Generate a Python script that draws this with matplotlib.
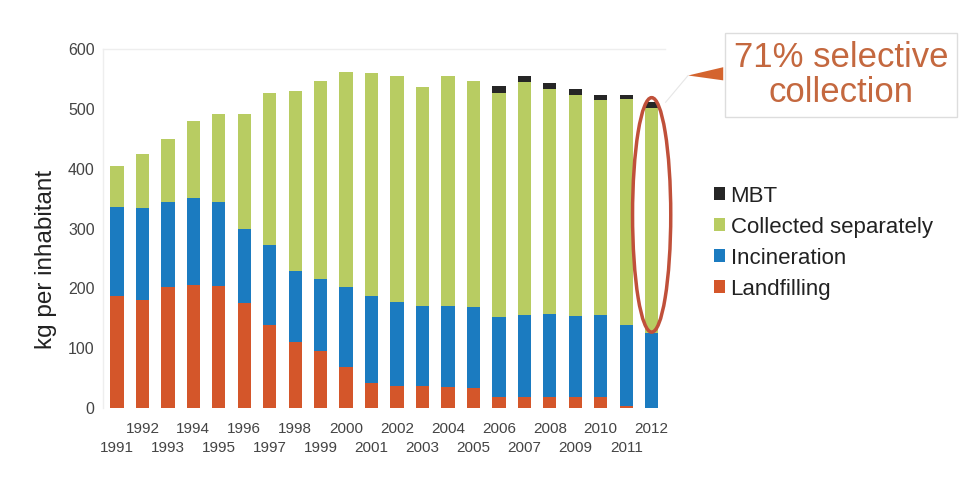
import matplotlib.pyplot as plt
import numpy as np
from matplotlib.patches import Ellipse, Polygon

plt.rcParams['font.family'] = ['Liberation Sans', 'DejaVu Sans']

years = list(range(1991, 2013))
# cumulative tops, turned into layer sizes below
landfilling = [188, 181, 203, 206, 204, 176, 139, 111, 96, 68, 42,
               37, 37, 35, 33, 18, 18, 19, 18, 19, 3, 1]
incineration_top = [336, 334, 344, 351, 344, 300, 273, 230, 216, 203, 188,
                     177, 171, 171, 169, 152, 156, 157, 154, 156, 139, 125]
collected_top = [404, 424, 450, 480, 491, 491, 526, 530, 546, 562, 560,
                 556, 536, 556, 547, 527, 545, 533, 524, 515, 516, 501]
mbt_top = [404, 424, 450, 480, 491, 491, 526, 530, 546, 562, 560,
           556, 536, 556, 547, 538, 556, 544, 534, 524, 524, 511]

series_names = ['MBT', 'Collected separately', 'Incineration', 'Landfilling']
colors = {'MBT': '#262626', 'Collected separately': '#B8CC62',
          'Incineration': '#1B7BC0', 'Landfilling': '#D4562A'}

land = np.array(landfilling)
incin = np.array(incineration_top) - land
coll = np.array(collected_top) - np.array(incineration_top)
mbt = np.array(mbt_top) - np.array(collected_top)

fig = plt.figure(figsize=(9.76, 4.87), dpi=100)
ax = fig.add_axes([0.1055, 0.162, 0.576, 0.737])

x = np.arange(len(years))
w = 0.52
ax.bar(x, land, w, color=colors['Landfilling'], label='Landfilling')
ax.bar(x, incin, w, bottom=land, color=colors['Incineration'], label='Incineration')
ax.bar(x, coll, w, bottom=land + incin, color=colors['Collected separately'],
       label='Collected separately')
ax.bar(x, mbt, w, bottom=land + incin + coll, color=colors['MBT'], label='MBT')

ax.set_xlim(-0.55, len(years) - 0.47)
ax.set_ylim(0, 600)
ax.set_yticks(range(0, 601, 100))
ax.tick_params(axis='y', length=0, labelsize=11.5, labelcolor='#444444', pad=6)

even = [i for i, y in enumerate(years) if y % 2 == 0]
odd = [i for i, y in enumerate(years) if y % 2 == 1]
ax.set_xticks(even, [str(years[i]) for i in even])
ax.set_xticks(odd, [str(years[i]) for i in odd], minor=True)
ax.tick_params(axis='x', which='both', length=0, labelsize=11, labelcolor='#444444')
ax.tick_params(axis='x', which='major', pad=10)
ax.tick_params(axis='x', which='minor', pad=24)

for side in ['right', 'bottom']:
    ax.spines[side].set_visible(False)
for side in ['top', 'left']:
    ax.spines[side].set_color('#eeeeee')
    ax.spines[side].set_linewidth(1)

ax.set_ylabel('kg per inhabitant', fontsize=17.5, color='#222222')
ax.yaxis.set_label_coords(-0.082, 0.415)

# legend, MBT on top
handles, labels = ax.get_legend_handles_labels()
order = [labels.index(n) for n in series_names]
fig.legend([handles[i] for i in order], [labels[i] for i in order],
           loc='upper left', bbox_to_anchor=(0.711, 0.66), frameon=False,
           fontsize=16, handlelength=0.5, handleheight=0.5, handletextpad=0.25,
           labelspacing=0.45, labelcolor='#222222')

# ellipse around the last bar
last = len(years) - 1
ax.add_patch(Ellipse((last, 323), 1.5, 392, fill=False, edgecolor='#C0503A',
                     linewidth=2.5, clip_on=False))

# callout box
fig.text(0.862, 0.846, '71% selective\ncollection', ha='center', va='center',
         fontsize=25, color='#C4683F', linespacing=1.05,
         bbox=dict(boxstyle='square,pad=0.25', facecolor='white',
                   edgecolor='#dddddd', linewidth=1))
fig.patches.append(Polygon([[0.705, 0.845], [0.741, 0.862], [0.741, 0.835]],
                           closed=True, transform=fig.transFigure,
                           facecolor='#D4642E', edgecolor='none'))
fig.lines.append(plt.Line2D([0.705, 0.682], [0.845, 0.79], transform=fig.transFigure,
                            color='#e6e6e6', linewidth=0.8))

fig.savefig('out.png', dpi=100)
